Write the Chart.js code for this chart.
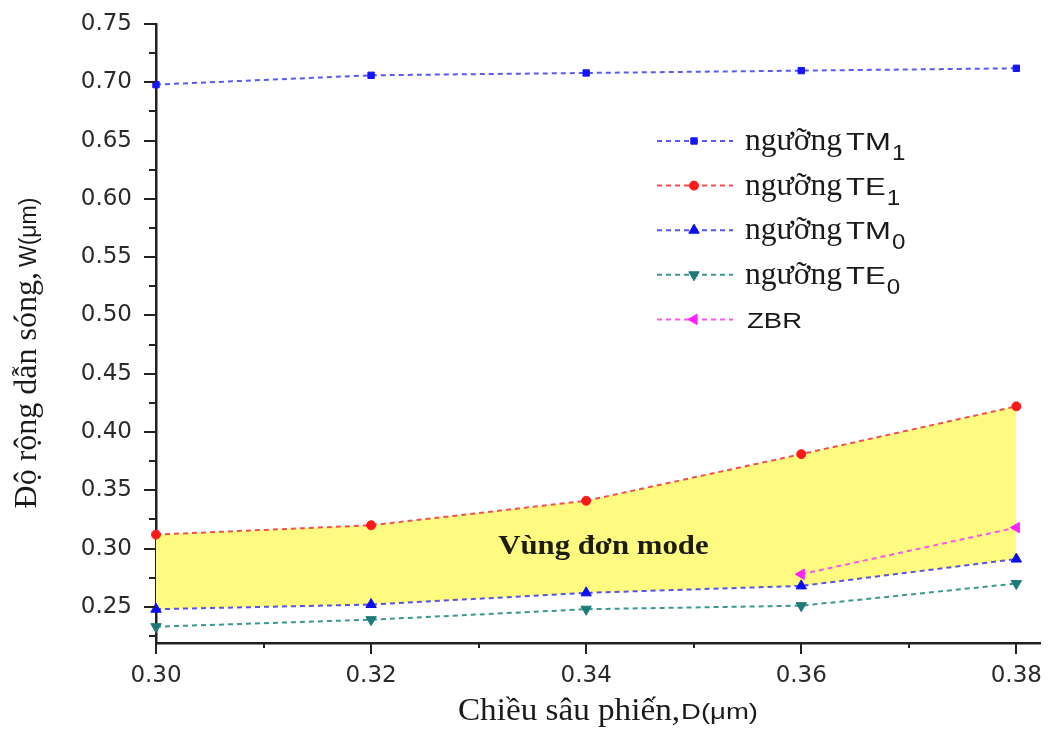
<!DOCTYPE html>
<html>
<head>
<meta charset="utf-8">
<title>Độ rộng dẫn sóng theo chiều sâu phiến</title>
<style>
  html, body { margin: 0; padding: 0; background: #ffffff; }
  #wrap { position: relative; width: 1051px; height: 729px; }
</style>
<script src="https://cdn.jsdelivr.net/npm/chart.js@4.4.1/dist/chart.umd.min.js"></script>
</head>
<body>
<div id="wrap"><canvas id="chart" width="1051" height="729"></canvas></div>
<script>
// Slab depth D (µm) on the horizontal axis
const depth = [0.30, 0.32, 0.34, 0.36, 0.38];

// Cut-off widths W (µm) for each mode
const thresholdTM1 = [0.698, 0.706, 0.708, 0.710, 0.712];
const thresholdTE1 = [0.312, 0.320, 0.341, 0.381, 0.422];
const thresholdTM0 = [0.248, 0.252, 0.262, 0.268, 0.291];
const thresholdTE0 = [0.233, 0.239, 0.248, 0.251, 0.270];
const zbrWidth     = [null,  null,  null,  0.278, 0.318];

// Axis tick values
const xTickValues = [0.30, 0.32, 0.34, 0.36, 0.38];
const yTickValues = [0.25, 0.30, 0.35, 0.40, 0.45, 0.50, 0.55, 0.60, 0.65, 0.70, 0.75];

// Series names: prefix, mode name, subscript
const seriesPrefix = ['ngưỡng', 'ngưỡng', 'ngưỡng', 'ngưỡng', ''];
const seriesMode   = ['TM', 'TE', 'TM', 'TE', 'ZBR'];
const seriesSub    = ['1', '1', '0', '0', ''];

// Texts
const regionLabel = 'Vùng đơn mode';
const xTitleMain = 'Chiều sâu phiến,';
const xTitleUnit = 'D(μm)';
const yTitleMain = 'Độ rộng dẫn sóng,';
const yTitleUnit = 'W(μm)';

const SERIF = '"Liberation Serif", "Times New Roman", serif';
const SANS = '"Liberation Sans", Arial, sans-serif';
const TICK_FONT = '"DejaVu Sans", sans-serif';

function points(values) {
  return depth.map((d, i) => ({ x: d, y: values[i] }));
}

const styles = [
  { line: 'rgb(90,90,240)',  mark: '#1414ff', shape: 'rect',     rot: 0,   r: 4.5 },
  { line: 'rgb(240,80,80)',  mark: '#ff1a1a', shape: 'circle',   rot: 0,   r: 4.5 },
  { line: 'rgb(85,85,225)',  mark: '#0d0df0', shape: 'triangle', rot: 0,   r: 6 },
  { line: 'rgb(60,150,145)', mark: '#1f7a78', shape: 'triangle', rot: 180, r: 6 },
  { line: 'rgb(245,90,235)', mark: '#ff22ff', shape: 'triangle', rot: -90, r: 6 }
];
const seriesValues = [thresholdTM1, thresholdTE1, thresholdTM0, thresholdTE0, zbrWidth];

const datasets = seriesValues.map((vals, i) => {
  const s = styles[i];
  return {
    label: seriesPrefix[i] + ' ' + seriesMode[i] + seriesSub[i],
    data: points(vals),
    borderColor: s.line,
    borderWidth: 2,
    borderDash: [5, 4],
    pointStyle: s.shape,
    pointRotation: s.rot,
    pointRadius: s.r,
    pointHoverRadius: s.r,
    pointBackgroundColor: s.mark,
    pointBorderColor: s.mark,
    pointBorderWidth: 1,
    tension: 0,
    clip: false,
    fill: false,
    backgroundColor: 'transparent'
  };
});
// Single-mode region: between the TE1 and TM0 cut-off curves
datasets[1].fill = '+1';
datasets[1].backgroundColor = 'rgb(255,251,128)';

function scaledText(ctx, text, x, y, font, sx, align) {
  ctx.save();
  ctx.font = font;
  const w = ctx.measureText(text).width * sx;
  let x0 = x;
  if (align === 'center') x0 = x - w / 2;
  else if (align === 'right') x0 = x - w;
  ctx.translate(x0, y);
  ctx.scale(sx, 1);
  ctx.textAlign = 'left';
  ctx.fillText(text, 0, 0);
  ctx.restore();
  return w;
}

function textWidth(ctx, text, font, sx) {
  ctx.save();
  ctx.font = font;
  const w = ctx.measureText(text).width * sx;
  ctx.restore();
  return w;
}

function drawMarker(ctx, s, x, y) {
  ctx.save();
  ctx.fillStyle = s.mark;
  ctx.strokeStyle = s.mark;
  ctx.lineWidth = 1;
  ctx.translate(x, y);
  ctx.rotate(s.rot * Math.PI / 180);
  ctx.beginPath();
  if (s.shape === 'circle') {
    ctx.arc(0, 0, s.r, 0, Math.PI * 2);
  } else if (s.shape === 'rect') {
    const h = s.r * Math.SQRT1_2;
    ctx.rect(-h, -h, 2 * h, 2 * h);
  } else {
    const r = s.r;
    ctx.moveTo(0, -r);
    ctx.lineTo(r * Math.sin(Math.PI * 2 / 3), r * 0.5);
    ctx.lineTo(-r * Math.sin(Math.PI * 2 / 3), r * 0.5);
    ctx.closePath();
  }
  ctx.fill();
  ctx.stroke();
  ctx.restore();
}

// Minor/major tick marks, axis titles, the region label and the legend
const decorations = {
  id: 'decorations',
  afterDatasetsDraw(chart) {
    const { ctx, scales: { x, y } } = chart;
    ctx.save();
    ctx.fillStyle = '#1c1c10';
    ctx.textBaseline = 'alphabetic';
    scaledText(ctx, regionLabel, x.getPixelForValue(0.3416), y.getPixelForValue(0.2955),
      'bold 28px ' + SERIF, 1.1, 'center');
    ctx.restore();
  },
  afterDraw(chart) {
    const { ctx, chartArea: a, scales: { x, y } } = chart;
    ctx.save();
    ctx.strokeStyle = '#222222';
    ctx.lineWidth = 2;

    const yMajor = y.ticks.map(t => t.value);
    const yStep = yMajor[1] - yMajor[0];
    yMajor.forEach((v) => {
      const py = Math.round(y.getPixelForValue(v));
      ctx.beginPath(); ctx.moveTo(a.left - 12, py); ctx.lineTo(a.left, py); ctx.stroke();
      const m = v - yStep / 2;
      if (m >= y.min) {
        const pm = Math.round(y.getPixelForValue(m));
        ctx.beginPath(); ctx.moveTo(a.left - 7, pm); ctx.lineTo(a.left, pm); ctx.stroke();
      }
    });

    const xMajor = x.ticks.map(t => t.value);
    const xStep = xMajor[1] - xMajor[0];
    xMajor.forEach((v) => {
      const px = Math.round(x.getPixelForValue(v));
      ctx.beginPath(); ctx.moveTo(px, a.bottom); ctx.lineTo(px, a.bottom + 11); ctx.stroke();
      const m = v + xStep / 2;
      if (m <= x.max) {
        const pm = Math.round(x.getPixelForValue(m));
        ctx.beginPath(); ctx.moveTo(pm, a.bottom); ctx.lineTo(pm, a.bottom + 5); ctx.stroke();
      }
    });

    // Axis titles
    ctx.fillStyle = '#1a1a1a';
    ctx.textBaseline = 'alphabetic';
    const xMainFont = '31px ' + SERIF, xUnitFont = '22px ' + SANS;
    const wMain = textWidth(ctx, xTitleMain, xMainFont, 1.07);
    const xStart = 458;
    scaledText(ctx, xTitleMain, xStart, 720, xMainFont, 1.07, 'left');
    scaledText(ctx, xTitleUnit, xStart + wMain + 1, 719, xUnitFont, 1.25, 'left');

    const yMainFont = '32px ' + SERIF, yUnitFont = '23px ' + SANS;
    const hMain = textWidth(ctx, yTitleMain, yMainFont, 1);
    const hUnit = textWidth(ctx, yTitleUnit, yUnitFont, 1);
    ctx.save();
    ctx.translate(36, 353);
    ctx.rotate(-Math.PI / 2);
    const start = -(hMain + hUnit + 5) / 2;
    scaledText(ctx, yTitleMain, start, 0, yMainFont, 1, 'left');
    scaledText(ctx, yTitleUnit, start + hMain + 5, 0, yUnitFont, 1, 'left');
    ctx.restore();

    // Legend
    const rowY0 = 141, rowGap = 44.6;
    chart.data.datasets.forEach((ds, i) => {
      const s = styles[i];
      const ly = rowY0 + i * rowGap;
      ctx.save();
      ctx.strokeStyle = s.line;
      ctx.lineWidth = 2;
      ctx.setLineDash([5, 4]);
      ctx.beginPath(); ctx.moveTo(657, ly); ctx.lineTo(733, ly); ctx.stroke();
      ctx.restore();
      drawMarker(ctx, s, 694, ly);
      ctx.fillStyle = '#1a1a1a';
      let tx = 745;
      if (seriesPrefix[i]) {
        tx += scaledText(ctx, seriesPrefix[i], tx, ly + 9, '31px ' + SERIF, 1.02, 'left') + 4;
        tx += scaledText(ctx, seriesMode[i], tx, ly + 9, '23px ' + SANS, 1.35, 'left') + 1;
        scaledText(ctx, seriesSub[i], tx, ly + 19, '22px ' + SANS, 1.1, 'left');
      } else {
        scaledText(ctx, seriesMode[i], tx + 2, ly + 9, '22px ' + SANS, 1.25, 'left');
      }
    });
    ctx.restore();
  }
};

Chart.defaults.font.family = TICK_FONT;

new Chart(document.getElementById('chart'), {
  type: 'line',
  data: { datasets },
  options: {
    responsive: false,
    animation: false,
    events: [],
    layout: { padding: { top: 24, right: 11, bottom: 0, left: 0 } },
    plugins: {
      legend: { display: false },
      tooltip: { enabled: false },
      filler: { drawTime: 'beforeDatasetsDraw', propagate: false }
    },
    scales: {
      x: {
        type: 'linear',
        min: 0.30,
        max: 0.3822,
        afterBuildTicks: s => { s.ticks = xTickValues.map(v => ({ value: v })); },
        afterFit: s => { s.height = 86; s.paddingLeft = 0; s.paddingRight = 0; },
        grid: { display: false, drawTicks: false },
        border: { display: true, color: '#222222', width: 2.5 },
        ticks: {
          padding: 19,
          autoSkip: false,
          maxRotation: 0,
          color: '#2a2a2a',
          font: { size: 23, family: TICK_FONT },
          callback: v => v.toFixed(2)
        }
      },
      y: {
        type: 'linear',
        min: 0.219,
        max: 0.75,
        afterBuildTicks: s => { s.ticks = yTickValues.map(v => ({ value: v })); },
        afterFit: s => { s.width = 156; s.paddingTop = 0; s.paddingBottom = 0; },
        grid: { display: false, drawTicks: false },
        border: { display: true, color: '#222222', width: 2.5 },
        ticks: {
          padding: 24,
          color: '#2a2a2a',
          font: { size: 23, family: TICK_FONT },
          callback: v => v.toFixed(2)
        }
      }
    }
  },
  plugins: [decorations]
});
</script>
</body>
</html>
